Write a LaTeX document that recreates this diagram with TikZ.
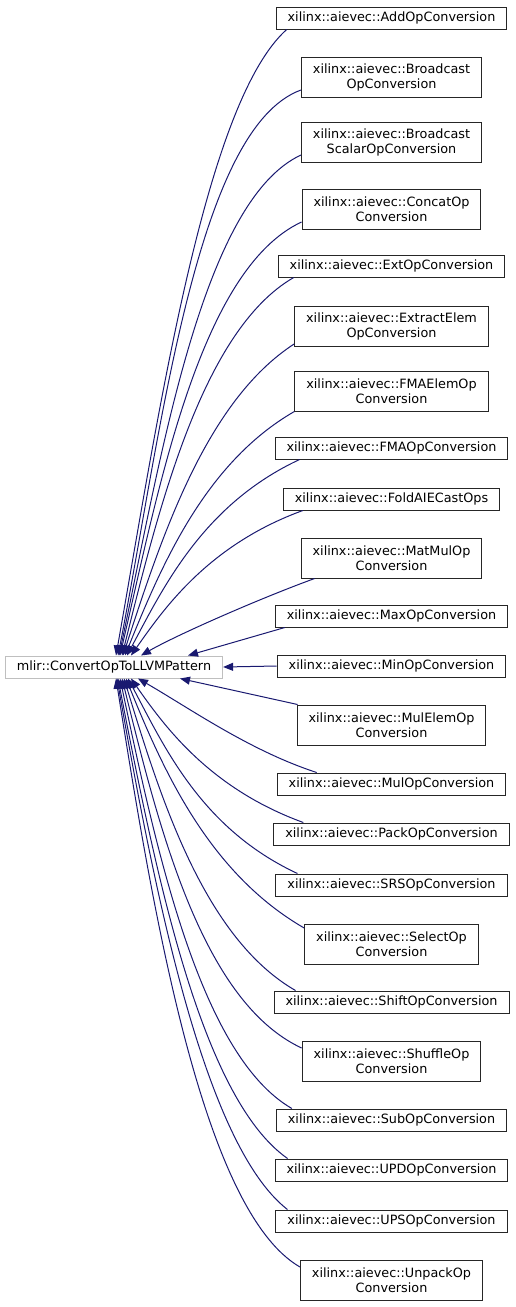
\documentclass[tikz,border=0pt]{standalone}
\usepackage{fontspec}
\setmainfont{DejaVu Sans}
\usepackage{xcolor}
\usepackage{tikz}
\usetikzlibrary{arrows.meta, positioning, calc}
\definecolor{edgeblue}{HTML}{191970}
\definecolor{basegray}{HTML}{BFBFBF}

\begin{document}
\begin{tikzpicture}[x=1pt, y=-1pt,
  cls/.style={rectangle, draw=black!85, fill=white, line width=1pt,
              inner xsep=11.5pt, inner ysep=3pt, minimum height=22pt,
              align=center, font=\fontsize{12.8}{15}\selectfont},
  cls2/.style={cls, minimum height=40pt},
  basecls/.style={cls, draw=basegray},
  arr/.style={-{Triangle[length=10pt, width=8pt]}, line width=1pt, color=edgeblue}
]
  \useasboundingbox (0,0) rectangle (516,1307);

  % derived classes
  \node[cls]  (add)     at (391.5,18)   {xilinx::aievec::AddOpConversion};
  \node[cls2] (bcast)   at (391.5,77)   {xilinx::aievec::Broadcast\\OpConversion};
  \node[cls2] (bscalar) at (391.5,142)  {xilinx::aievec::Broadcast\\ScalarOpConversion};
  \node[cls2] (concat)  at (391.5,209)  {xilinx::aievec::ConcatOp\\Conversion};
  \node[cls]  (ext)     at (391.5,266)  {xilinx::aievec::ExtOpConversion};
  \node[cls2] (extract) at (391.5,326)  {xilinx::aievec::ExtractElem\\OpConversion};
  \node[cls2] (fmaelem) at (391.5,391)  {xilinx::aievec::FMAElemOp\\Conversion};
  \node[cls]  (fma)     at (391.5,448)  {xilinx::aievec::FMAOpConversion};
  \node[cls]  (fold)    at (391.5,499)  {xilinx::aievec::FoldAIECastOps};
  \node[cls2] (matmul)  at (391.5,558)  {xilinx::aievec::MatMulOp\\Conversion};
  \node[cls]  (maxop)   at (391.5,616)  {xilinx::aievec::MaxOpConversion};
  \node[cls]  (minop)   at (391.5,666)  {xilinx::aievec::MinOpConversion};
  \node[cls2] (mulelem) at (391.5,725)  {xilinx::aievec::MulElemOp\\Conversion};
  \node[cls]  (mulop)   at (391.5,784)  {xilinx::aievec::MulOpConversion};
  \node[cls]  (pack)    at (391.5,834)  {xilinx::aievec::PackOpConversion};
  \node[cls]  (srs)     at (391.5,885)  {xilinx::aievec::SRSOpConversion};
  \node[cls2] (select)  at (391.5,944)  {xilinx::aievec::SelectOp\\Conversion};
  \node[cls]  (shift)   at (391.5,1002) {xilinx::aievec::ShiftOpConversion};
  \node[cls2] (shuffle) at (391.5,1061) {xilinx::aievec::ShuffleOp\\Conversion};
  \node[cls]  (sub)     at (391.5,1120) {xilinx::aievec::SubOpConversion};
  \node[cls]  (upd)     at (391.5,1170) {xilinx::aievec::UPDOpConversion};
  \node[cls]  (ups)     at (391.5,1221) {xilinx::aievec::UPSOpConversion};
  \node[cls2] (unpack)  at (391.5,1280) {xilinx::aievec::UnpackOp\\Conversion};

  % base class
  \node[basecls] (base) at (114,667) {mlir::ConvertOpToLLVMPattern};

  % edges above the base
  \draw[arr] ($(add.south west)+(11,0)$)  to[out=222, in=80, out distance=110pt, in distance=250pt] ($(base.north)+(2,0)$);
  \draw[arr] ($(bcast.west)+(0,13)$)      to[out=200, in=79, out distance=112pt, in distance=226pt] ($(base.north)+(4,0)$);
  \draw[arr] ($(bscalar.west)+(0,13)$)    to[out=205, in=78, out distance=110pt, in distance=200pt] ($(base.north)+(5,0)$);
  \draw[arr] ($(concat.west)+(0,13)$)     to[out=205, in=77, out distance=112pt, in distance=173pt] ($(base.north)+(6,0)$);
  \draw[arr] ($(ext.south west)+(16,0)$)  to[out=210, in=76, out distance=106pt, in distance=151pt] ($(base.north)+(8,0)$);
  \draw[arr] ($(extract.west)+(0,18)$)    to[out=213, in=72, out distance=105pt, in distance=125pt] ($(base.north)+(9,0)$);
  \draw[arr] (fmaelem.south west)         to[out=210, in=68, out distance=103pt, in distance=98pt]  ($(base.north)+(11,0)$);
  \draw[arr] ($(fma.south west)+(25,0)$)  to[out=205, in=62, out distance=106pt, in distance=78pt]  ($(base.north)+(13,0)$);
  \draw[arr] ($(fold.south west)+(20,0)$) to[out=200, in=55, out distance=100pt, in distance=58pt]  ($(base.north)+(17,0)$);
  \draw[arr] ($(matmul.south west)+(14,0)$) to[out=200, in=30, out distance=60pt, in distance=40pt] ($(base.north)+(27,0)$);
  \draw[arr] ($(maxop.south west)+(10,0)$) -- ($(base.north)+(74,0)$);

  % level edge
  \draw[arr] (minop.west) -- (base.east);

  % edges below the base
  \draw[arr] ($(mulelem.north west)+(1,0)$) -- ($(base.south)+(66,0)$);
  \draw[arr] ($(mulop.north west)+(40,0)$)  to[out=162, in=330, out distance=70pt, in distance=60pt]   ($(base.south)+(24,0)$);
  \draw[arr] ($(pack.north west)+(30,0)$)   to[out=160, in=305, out distance=100pt, in distance=58pt]  ($(base.south)+(17,0)$);
  \draw[arr] ($(srs.north west)+(22,0)$)    to[out=155, in=298, out distance=106pt, in distance=78pt]  ($(base.south)+(14,0)$);
  \draw[arr] ($(select.west)+(0,-16)$)      to[out=150, in=292, out distance=110pt, in distance=99pt]  ($(base.south)+(12,0)$);
  \draw[arr] ($(shift.north west)+(22,0)$)  to[out=150, in=287, out distance=106pt, in distance=124pt] ($(base.south)+(10,0)$);
  \draw[arr] ($(shuffle.west)+(0,-13)$)     to[out=155, in=284, out distance=112pt, in distance=147pt] ($(base.south)+(8,0)$);
  \draw[arr] ($(sub.north west)+(16,0)$)    to[out=150, in=282, out distance=107pt, in distance=172pt] ($(base.south)+(6,0)$);
  \draw[arr] ($(upd.north west)+(13,0)$)    to[out=145, in=281, out distance=107pt, in distance=192pt] ($(base.south)+(4,0)$);
  \draw[arr] ($(ups.north west)+(12,0)$)    to[out=142, in=280, out distance=107pt, in distance=212pt] ($(base.south)+(3,0)$);
  \draw[arr] ($(unpack.west)+(0,-13)$)      to[out=150, in=279, out distance=113pt, in distance=235pt] ($(base.south)+(2,0)$);
\end{tikzpicture}
\end{document}
